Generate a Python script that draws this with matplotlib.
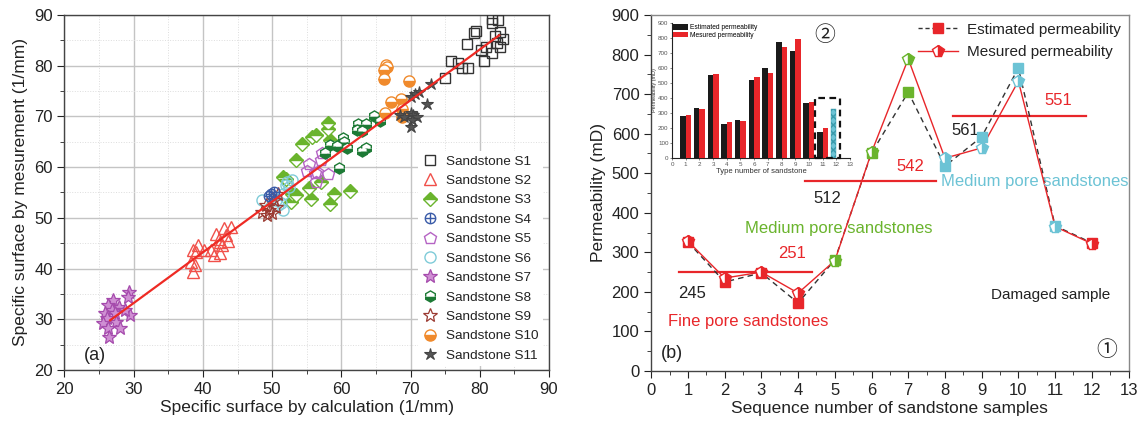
import numpy as np
import matplotlib
matplotlib.use('Agg')
import matplotlib.pyplot as plt
from matplotlib.path import Path
from matplotlib.ticker import MultipleLocator
from matplotlib.patches import Rectangle, Patch
from matplotlib.lines import Line2D

plt.rcParams['font.family'] = ['Liberation Sans', 'DejaVu Sans']

# ---------------- Panel (a) data: (calculated, measured) specific surface ----------------
s1_calc = [81.8, 82.6, 81.7, 82.9, 82.2, 83.4, 79.2, 79.5, 78.1, 80.2, 80.9, 81.8, 82.9, 80.6, 75.9, 76.9, 77.5, 78.3, 74.9, 82.5]
s1_meas = [89.2, 89.0, 88.4, 86.7, 85.9, 85.2, 86.4, 86.8, 84.2, 83.1, 83.7, 82.6, 83.7, 81.0, 80.9, 80.6, 79.6, 79.6, 77.5, 84.5]
s2_calc = [44.0, 43.0, 41.9, 42.3, 43.3, 43.6, 42.8, 39.3, 38.5, 39.0, 40.2, 41.2, 42.5, 38.3, 38.8, 38.5, 41.6, 42.4]
s2_meas = [48.2, 47.9, 46.9, 45.8, 46.6, 45.4, 44.6, 44.6, 43.6, 43.3, 43.6, 43.6, 43.0, 41.3, 40.7, 39.4, 42.7, 45.3]
s3_calc = [58.0, 58.0, 55.8, 56.3, 54.3, 58.3, 53.4, 51.5, 52.0, 55.3, 52.9, 55.6, 58.9, 61.2, 58.3, 52.7, 57.0, 53.5]
s3_meas = [68.8, 67.6, 65.9, 66.3, 64.5, 65.3, 61.4, 58.1, 57.6, 55.8, 54.8, 53.8, 54.8, 55.3, 52.7, 53.2, 57.1, 54.5]
s4_calc = [49.9, 50.2, 49.6]
s4_meas = [54.8, 55.0, 54.3]
s5_calc = [57.2, 57.0, 55.3, 55.1, 56.5, 58.0, 56.3, 56.2]
s5_meas = [62.8, 61.4, 60.6, 59.3, 59.1, 58.6, 57.1, 58.8]
s6_calc = [52.9, 52.2, 52.0, 51.5, 50.8, 51.3, 48.6, 51.5, 50.5, 52.4]
s6_meas = [57.5, 57.1, 56.5, 54.8, 52.5, 52.9, 53.5, 51.5, 53.5, 56.1]
s7_calc = [29.3, 29.2, 27.0, 26.3, 27.9, 26.8, 25.8, 27.3, 29.4, 26.1, 25.6, 27.5, 26.3, 26.5, 28.0, 28.7]
s7_meas = [35.4, 34.4, 33.8, 32.8, 32.5, 31.8, 31.2, 31.2, 30.8, 30.2, 29.2, 29.5, 28.2, 26.6, 28.2, 31.8]
s8_calc = [62.4, 63.5, 64.7, 65.6, 62.2, 63.0, 60.2, 60.4, 58.4, 59.4, 57.6, 60.8, 63.0, 63.5, 59.6]
s8_meas = [68.6, 68.6, 70.1, 69.0, 67.3, 67.1, 65.7, 65.0, 64.4, 64.2, 62.7, 63.7, 63.2, 63.7, 59.8]
s9_calc = [49.1, 49.6, 50.0, 49.3, 50.8, 50.3, 48.6, 50.5]
s9_meas = [52.5, 51.5, 50.9, 50.6, 54.8, 53.5, 51.2, 52.2]
s10_calc = [66.4, 66.6, 66.1, 66.1, 69.8, 67.2, 68.6, 68.8, 66.3, 68.7]
s10_meas = [80.1, 79.7, 79.2, 77.4, 77.0, 72.9, 73.4, 71.4, 70.7, 69.9]
s11_calc = [72.9, 71.2, 70.6, 70.0, 72.3, 68.5, 69.0, 70.0, 70.4, 70.9, 70.2, 70.1]
s11_meas = [76.4, 74.9, 74.4, 73.8, 72.4, 70.3, 69.9, 70.6, 70.3, 69.9, 69.3, 68.0]
series_names = ['Sandstone S1', 'Sandstone S2', 'Sandstone S3', 'Sandstone S4', 'Sandstone S5',
                'Sandstone S6', 'Sandstone S7', 'Sandstone S8', 'Sandstone S9', 'Sandstone S10',
                'Sandstone S11']
fit_range = [26.6, 82.8]
fit_slope = 1.0
fit_intercept = 3.2

# ---------------- Panel (b) data ----------------
seq_no = [1, 2, 3, 4, 5, 6, 7, 8, 9, 10, 11, 12]
est_perm = [326, 225, 248, 172, 281, 551, 705, 518, 592, 766, 367, 324]
mes_perm = [328, 235, 250, 197, 279, 553, 789, 538, 564, 733, 365, 322]
point_group = ['fine', 'fine', 'fine', 'fine', 'medg', 'medg', 'medg',
               'medc', 'medc', 'medc', 'medc', 'fine']
group_levels = [250, 480, 645]
group_spans = [(0.75, 4.37), (4.18, 7.75), (8.22, 11.84)]
mes_means = ['251', '542', '551']
est_means = ['245', '512', '561']

# inset data
type_no = [1, 2, 3, 4, 5, 6, 7, 8, 9, 10, 11]
inset_est = [282, 333, 553, 224, 251, 520, 598, 771, 711, 367, 171]
inset_mes = [284, 327, 560, 238, 249, 538, 569, 740, 793, 371, 202]
type12_value = 329

# ---------------- Styles ----------------
RED = '#e8262a'
GREEN = '#6ab42d'
CYAN = '#6cc3d5'
group_color = {'fine': RED, 'medg': GREEN, 'medc': CYAN}

circ = Path.unit_circle()
cross_circle = Path(np.concatenate([circ.vertices, [[-1, 0], [1, 0], [0, -1], [0, 1]]]),
                    np.concatenate([circ.codes, [Path.MOVETO, Path.LINETO, Path.MOVETO, Path.LINETO]]))

styles = [
    dict(marker='s', ms=7, mec='#333333', mfc='none', mew=1.0),
    dict(marker='^', ms=8.5, mec='#f0504a', mfc='none', mew=1.0),
    dict(marker='D', ms=7, mec=GREEN, mfc=GREEN, fillstyle='top', markerfacecoloralt='white', mew=1.0),
    dict(marker=cross_circle, ms=7.5, mec='#3a5ba8', mfc='none', mew=1.0),
    dict(marker='p', ms=9, mec='#b564c4', mfc='none', mew=1.0),
    dict(marker='o', ms=8, mec='#7fcbd8', mfc='none', mew=1.0),
    dict(marker='*', ms=10, mec='#a54aac', mfc='#cf8fd3', mew=0.9),
    dict(marker='h', ms=8, mec='#1d7a35', mfc='#1d7a35', fillstyle='bottom', markerfacecoloralt='white', mew=1.0),
    dict(marker='*', ms=10, mec='#9b3a32', mfc='none', mew=0.9),
    dict(marker='o', ms=8, mec='#f08a2c', mfc='#f08a2c', fillstyle='bottom', markerfacecoloralt='white', mew=1.0),
    dict(marker='*', ms=9, mec='#444444', mfc='#555555', mew=0.8),
]
all_calc = [s1_calc, s2_calc, s3_calc, s4_calc, s5_calc, s6_calc, s7_calc, s8_calc, s9_calc, s10_calc, s11_calc]
all_meas = [s1_meas, s2_meas, s3_meas, s4_meas, s5_meas, s6_meas, s7_meas, s8_meas, s9_meas, s10_meas, s11_meas]

fig = plt.figure(figsize=(11.45, 4.26), dpi=100)

# ======================= Panel (a) =======================
ax = fig.add_axes([0.0563, 0.1315, 0.4232, 0.8333])
draw_order = [0, 1, 2, 4, 5, 7, 9, 10, 8, 3, 6]
handles = [None] * 11
for i in draw_order:
    h, = ax.plot(all_calc[i], all_meas[i], ls='none', label=series_names[i], zorder=3, **styles[i])
    handles[i] = h
fx = np.array(fit_range)
ax.plot(fx, fit_slope * fx + fit_intercept, color='#ee2a24', lw=1.6, zorder=4)

ax.set_xlim(20, 90)
ax.set_ylim(20, 90)
ax.xaxis.set_major_locator(MultipleLocator(10))
ax.xaxis.set_minor_locator(MultipleLocator(5))
ax.yaxis.set_major_locator(MultipleLocator(10))
ax.yaxis.set_minor_locator(MultipleLocator(5))
ax.grid(which='major', color='#c4c4c4', lw=1.0, zorder=0)
ax.grid(which='minor', color='#dddddd', lw=0.7, ls=':', zorder=0)
ax.set_axisbelow(True)
ax.tick_params(which='both', direction='out', top=False, right=False, labelsize=12, colors='#222222')
ax.tick_params(which='major', length=5)
ax.tick_params(which='minor', length=3)
for sp in ax.spines.values():
    sp.set_color('#444444')
    sp.set_linewidth(1.0)
ax.set_xlabel('Specific surface by calculation (1/mm)', fontsize=12.5, labelpad=2, color='#222222')
ax.set_ylabel('Specific surface by mesurement (1/mm)', fontsize=12.5, labelpad=4, color='#222222')
ax.text(24.4, 22.9, '(a)', fontsize=13, ha='center', va='center', color='#222222')
leg = ax.legend(handles=handles, loc='lower right', bbox_to_anchor=(0.995, 0.0), fontsize=9.7,
                frameon=True, facecolor='white', edgecolor='none', framealpha=1.0,
                labelspacing=0.52, handletextpad=0.6, handlelength=1.2, borderpad=0.3,
                borderaxespad=0.3)
for t in leg.get_texts():
    t.set_color('#222222')

# ======================= Panel (b) =======================
bx = fig.add_axes([0.5688, 0.1291, 0.4168, 0.8357])
bx.plot(seq_no, est_perm, color='#333333', ls=(0, (4, 3)), lw=1.0, zorder=3)
bx.plot(seq_no, mes_perm, color=RED, ls='-', lw=1.0, zorder=3)
for s, e, m, g in zip(seq_no, est_perm, mes_perm, point_group):
    c = group_color[g]
    bx.plot([s], [e], marker='s', ms=7, color=c, mec=c, ls='none', zorder=4)
    bx.plot([s], [m], marker='p', ms=8.5, color=c, mec=c, mfc=c, fillstyle='right',
            markerfacecoloralt='white', mew=1.0, ls='none', zorder=5)

for lvl, (x0, x1) in zip(group_levels, group_spans):
    bx.plot([x0, x1], [lvl, lvl], color=RED, lw=1.6, zorder=2)

bx.text(3.83, 298, mes_means[0], color=RED, fontsize=12, ha='center', va='center')
bx.text(1.11, 195, est_means[0], color='#222222', fontsize=12, ha='center', va='center')
bx.text(4.79, 437, est_means[1], color='#222222', fontsize=12, ha='center', va='center')
bx.text(7.05, 516, mes_means[1], color=RED, fontsize=12, ha='center', va='center')
bx.text(8.55, 607, est_means[2], color='#222222', fontsize=12, ha='center', va='center')
bx.text(11.08, 683, mes_means[2], color=RED, fontsize=12, ha='center', va='center')
bx.text(2.63, 126, 'Fine pore sandstones', color=RED, fontsize=12, ha='center', va='center')
bx.text(5.1, 359, 'Medium pore sandstones', color=GREEN, fontsize=12, ha='center', va='center')
bx.text(7.89, 480, 'Medium pore sandstones', color=CYAN, fontsize=12, ha='left', va='center')
bx.text(10.87, 192, 'Damaged sample', color='#222222', fontsize=11, ha='center', va='center')
bx.text(0.56, 45, '(b)', color='#222222', fontsize=13, ha='center', va='center')
bx.text(12.42, 53, '\u2460', color='#222222', fontsize=15, ha='center', va='center',
        family=['Noto Sans CJK SC', 'DejaVu Sans'])

bx.set_xlim(0, 13)
bx.set_ylim(0, 900)
bx.xaxis.set_major_locator(MultipleLocator(1))
bx.xaxis.set_minor_locator(MultipleLocator(0.5))
bx.yaxis.set_major_locator(MultipleLocator(100))
bx.yaxis.set_minor_locator(MultipleLocator(50))
bx.tick_params(which='both', direction='out', top=False, right=False, labelsize=12, colors='#222222')
bx.tick_params(which='major', length=5)
bx.tick_params(which='minor', length=3)
for name, sp in bx.spines.items():
    sp.set_linewidth(1.0)
    sp.set_color('#444444' if name in ('left', 'bottom') else '#888888')
bx.set_xlabel('Sequence number of sandstone samples', fontsize=12.5, labelpad=2, color='#222222')
bx.set_ylabel('Permeability (mD)', fontsize=12.5, labelpad=4, color='#222222')

lh = [Line2D([], [], color='#333333', ls=(0, (3, 2)), lw=1.0, marker='s', ms=7, mfc=RED, mec=RED),
      Line2D([], [], color=RED, ls='-', lw=1.0, marker='p', ms=8.5, mfc=RED, mec=RED,
             fillstyle='right', markerfacecoloralt='white')]
bleg = bx.legend(lh, ['Estimated permeability', 'Mesured permeability'], loc='upper right',
                 fontsize=11, frameon=False, handlelength=2.6, handletextpad=0.6,
                 labelspacing=0.55, borderaxespad=0.1)
for t in bleg.get_texts():
    t.set_color('#222222')

# ======================= Inset =======================
ix = fig.add_axes([0.5869, 0.629, 0.1555, 0.317])
tn = np.array(type_no)
ix.bar(tn - 0.2, inset_est, width=0.4, color='#1a1a1a', label='Estimated permeability', zorder=3)
ix.bar(tn + 0.2, inset_mes, width=0.4, color=RED, label='Mesured permeability', zorder=3)
ix.bar([12 - 0.2], [type12_value], width=0.4, color=CYAN, hatch='xxxx', edgecolor='#3a9aab',
       lw=0.3, zorder=3)
ix.add_patch(Rectangle((10.44, 0), 1.83, 400, fill=False, ls=(0, (3, 2)), lw=1.6,
                       edgecolor='#111111', clip_on=False, zorder=4))
ix.set_xlim(0, 13)
ix.set_ylim(0, 900)
ix.xaxis.set_major_locator(MultipleLocator(1))
ix.yaxis.set_major_locator(MultipleLocator(100))
ix.spines['top'].set_visible(False)
ix.spines['right'].set_visible(False)
for sp in ('left', 'bottom'):
    ix.spines[sp].set_linewidth(0.8)
    ix.spines[sp].set_color('#222222')
ix.tick_params(direction='out', length=1.5, width=0.5, labelsize=4.5, colors='#555555', pad=1)
ix.set_xlabel('Type number of sandstone', fontsize=5.5, labelpad=1, color='#333333')
ix.set_ylabel('Permeability (mD)', fontsize=4, labelpad=1, color='#333333')
ix.patch.set_alpha(0)
ileg = ix.legend(loc='upper left', fontsize=4.8, frameon=False, handlelength=2.2, handleheight=0.9,
                 labelspacing=0.05, borderaxespad=0.1, handletextpad=0.3, borderpad=0.1)
ix.text(0.86, 0.91, '\u2461', transform=ix.transAxes, fontsize=15, ha='center', va='center',
        color='#222222', family=['Noto Sans CJK SC', 'DejaVu Sans'])

fig.savefig('out.png', dpi=100)
